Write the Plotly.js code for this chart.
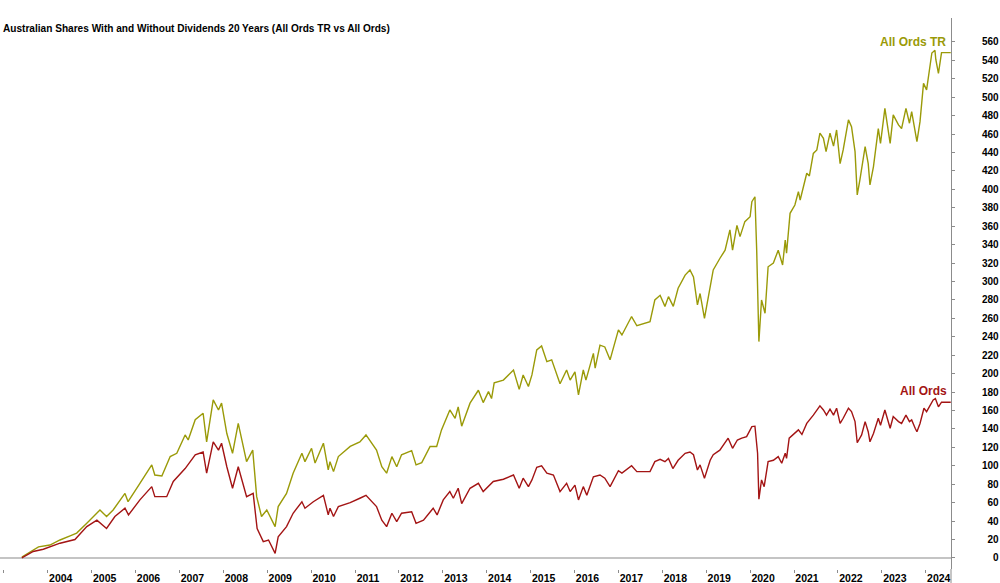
<!DOCTYPE html>
<html>
<head>
<meta charset="utf-8">
<script src="https://cdn.plot.ly/plotly-3.0.1.min.js"></script>
<style>html,body{margin:0;padding:0;background:#fff;}#chart{width:1000px;height:583px;}</style>
</head>
<body>
<div id="chart"></div>
<script>
// Decimal-year dates and cumulative % gains
const trYears = [2003.41,2003.67,2003.79,2004.05,2004.28,2004.51,2004.66,2004.89,2005.19,2005.34,2005.49,2005.76,2005.83,2006.10,2006.37,2006.44,2006.60,2006.79,2006.94,2007.13,2007.20,2007.36,2007.54,2007.62,2007.70,2007.77,2007.89,2007.96,2008.08,2008.21,2008.34,2008.53,2008.67,2008.76,2008.87,2008.99,2009.18,2009.25,2009.44,2009.59,2009.79,2009.86,2010.01,2010.09,2010.28,2010.39,2010.43,2010.51,2010.62,2010.89,2011.11,2011.25,2011.49,2011.61,2011.72,2011.84,2011.95,2012.06,2012.29,2012.39,2012.52,2012.71,2012.86,2012.97,2013.16,2013.28,2013.35,2013.43,2013.62,2013.81,2013.92,2014.04,2014.11,2014.17,2014.38,2014.61,2014.74,2014.83,2014.95,2015.03,2015.14,2015.25,2015.37,2015.48,2015.67,2015.82,2015.90,2016.01,2016.09,2016.20,2016.26,2016.43,2016.47,2016.58,2016.69,2016.81,2017.00,2017.08,2017.30,2017.42,2017.72,2017.83,2017.95,2018.06,2018.14,2018.25,2018.36,2018.52,2018.63,2018.71,2018.80,2018.86,2018.96,2019.07,2019.16,2019.31,2019.43,2019.54,2019.60,2019.70,2019.77,2019.88,2020.00,2020.04,2020.11,2020.15,2020.20,2020.26,2020.34,2020.41,2020.53,2020.64,2020.74,2020.80,2020.83,2020.91,2021.02,2021.10,2021.14,2021.29,2021.35,2021.44,2021.52,2021.59,2021.67,2021.73,2021.82,2021.90,2021.97,2022.05,2022.12,2022.24,2022.31,2022.39,2022.44,2022.50,2022.62,2022.69,2022.73,2022.81,2022.92,2022.97,2023.07,2023.19,2023.26,2023.38,2023.45,2023.55,2023.63,2023.68,2023.76,2023.80,2023.87,2023.95,2024.02,2024.08,2024.14,2024.21,2024.23,2024.29,2024.33,2024.36,2024.57];
const trValues = [1,8,12,14,19.5,24,27,37.6,52,45,52,70,61,81,101,90,89,110,113.6,133.5,128,150,157,126,150,171.5,160.6,168,135,113.6,146,104.5,117,66.5,45,52,34,55.7,70,92,113.6,104.5,119,103,124.5,95.5,104.5,93.7,110,121,126,133.5,117,99,92,110,99,112,116.5,101,103.5,121,121,139,160.6,151.6,164,143,168,182,168.6,180.5,173,190,193,204,183,198.6,186,198.6,225.7,230,213,215,189,204,193,202,177,204,193,222,206,231,229,215,247.5,242,262,252,256.5,280,285,273,283.6,273,292.7,307,312.6,305,274.6,287,260,289,312.6,325,334,356,334,361,348.7,365,370.4,386.7,392,334,234.8,280,265.6,316,320,334,318,345,330.7,374,383,397.5,388.5,417.5,414.6,439,442.8,461,455.5,441,461,447,464.5,428,442.8,475.4,468,441,394,410,446.4,428,404.8,424.7,466,450,488,450,480.8,470,466,488,471.8,484.4,462.7,451.8,473.5,515,508,526,548,551,541,526,537,548.4,548.4];

const aoYears = [2003.41,2003.67,2003.90,2004.28,2004.62,2004.89,2005.12,2005.34,2005.53,2005.76,2005.84,2006.10,2006.37,2006.44,2006.71,2006.86,2007.13,2007.36,2007.54,2007.62,2007.77,2007.89,2007.96,2008.08,2008.21,2008.34,2008.53,2008.68,2008.77,2008.91,2009.03,2009.18,2009.25,2009.44,2009.59,2009.79,2009.86,2010.05,2010.28,2010.39,2010.43,2010.51,2010.62,2010.89,2011.11,2011.25,2011.49,2011.61,2011.72,2011.84,2011.95,2012.06,2012.29,2012.39,2012.56,2012.78,2012.87,2013.01,2013.16,2013.24,2013.35,2013.43,2013.62,2013.81,2013.92,2014.15,2014.38,2014.61,2014.74,2014.83,2014.95,2015.03,2015.14,2015.25,2015.37,2015.52,2015.67,2015.82,2015.90,2016.01,2016.09,2016.20,2016.28,2016.43,2016.58,2016.69,2016.81,2017.00,2017.08,2017.30,2017.42,2017.72,2017.83,2017.95,2018.06,2018.14,2018.24,2018.36,2018.52,2018.63,2018.71,2018.80,2018.86,2018.96,2019.09,2019.16,2019.31,2019.50,2019.60,2019.71,2019.81,2019.92,2020.04,2020.11,2020.17,2020.20,2020.26,2020.32,2020.41,2020.53,2020.64,2020.72,2020.80,2020.83,2020.89,2020.98,2021.10,2021.18,2021.29,2021.44,2021.59,2021.67,2021.74,2021.82,2021.90,2021.97,2022.05,2022.12,2022.24,2022.31,2022.39,2022.44,2022.54,2022.62,2022.69,2022.73,2022.81,2022.92,2022.97,2023.07,2023.19,2023.26,2023.38,2023.45,2023.55,2023.63,2023.68,2023.76,2023.80,2023.87,2023.96,2024.02,2024.10,2024.17,2024.22,2024.29,2024.36,2024.57];
const aoValues = [0,7,9.4,16,20,34,41,32,45,54,46.7,63,77.4,66.5,66.5,83,97,112,115,92,126,117,124.5,99,75.6,99,66.5,70,32,17.7,19.5,5,23,34,48.5,61,54,61,68,46.7,54,45,55.7,60,64.8,68,55.7,41,34,48.5,39.4,48.5,50,37.6,41,54,46.7,63,72,64.8,75.6,59,75.6,81,72,83,85.4,90,75.6,86.5,77.4,84.7,98.4,100,92,90,72,81,72,79,63,77.4,68,88,90,86.5,77.4,94.7,92,100,93.7,93.7,104.5,107,104.5,108,97,106,113.6,115,112,95.5,101,86.5,106,112,117,130,119,128,130,131.7,142.5,143,113.6,63.7,84.7,77.4,104.5,106,110,102.8,113.6,108,130,133.5,139,134,146,155,165,160.6,155,161.4,155,162.5,146,151.6,162.5,158.8,148,125,133.5,148,137,126,135,151.6,144,160.6,140.8,153.4,148,146,155,148,149.8,140.8,137,146,162.5,158.8,166,171.5,173,164,169,169];

const yearTicks = [2003,2004,2005,2006,2007,2008,2009,2010,2011,2012,2013,2014,2015,2016,2017,2018,2019,2020,2021,2022,2023,2024];
const yearLabels = ['','2004','2005','2006','2007','2008','2009','2010','2011','2012','2013','2014','2015','2016','2017','2018','2019','2020','2021','2022','2023','2024'];
const valueTicks = [0,20,40,60,80,100,120,140,160,180,200,220,240,260,280,300,320,340,360,380,400,420,440,460,480,500,520,540,560];

const seriesNames = ['All Ords TR','All Ords'];
const chartTitle = 'Australian Shares With and Without Dividends 20 Years (All Ords TR vs All Ords)';

const OLIVE = '#9a9a08';
const RED = '#a31414';
const FONT = 'Liberation Sans, Arial, Helvetica, sans-serif';
const YR = [-12, 586];
// right-align the value labels by padding with figure spaces (same width as a digit)
const valueLabels = valueTicks.map(v => String(v).padStart(3, '\u2007'));

const traces = [
  {x: trYears, y: trValues, type: 'scatter', mode: 'lines', name: seriesNames[0],
   line: {color: OLIVE, width: 1.4}, hoverinfo: 'skip'},
  {x: aoYears, y: aoValues, type: 'scatter', mode: 'lines', name: seriesNames[1],
   line: {color: RED, width: 1.4}, hoverinfo: 'skip'}
];

const layout = {
  width: 1000, height: 583,
  margin: {l: 0, r: 49, t: 18, b: 14, pad: 0},
  paper_bgcolor: '#ffffff', plot_bgcolor: '#ffffff',
  showlegend: false,
  title: {text: chartTitle, x: 0.003, xanchor: 'left', xref: 'container',
          y: 1 - 28.5/583, yanchor: 'middle', yref: 'container',
          font: {family: FONT, size: 10.1, weight: 'bold', color: '#000000'}},
  xaxis: {range: [2002.913, 2024.576],
          tickmode: 'array', tickvals: yearTicks, ticktext: yearLabels,
          ticks: 'outside', ticklen: 3, tickwidth: 1, tickcolor: '#8c8c8c',
          ticklabelshift: 13, ticklabelstandoff: -4,
          showline: false, showgrid: false, zeroline: false,
          tickfont: {family: FONT, size: 10.5, weight: 'bold', color: '#000000'}},
  yaxis: {side: 'right', anchor: 'x', range: YR,
          tickmode: 'array', tickvals: valueTicks, ticktext: valueLabels,
          ticks: 'outside', ticklen: 3, tickwidth: 1, tickcolor: '#8c8c8c',
          ticklabelstandoff: 25,
          showline: true, linecolor: '#8c8c8c', linewidth: 1,
          showgrid: false, zeroline: true, zerolinecolor: '#c4c4c4', zerolinewidth: 1.5,
          tickfont: {family: FONT, size: 10, weight: 'bold', color: '#000000'}},
  shapes: [
    {type: 'line', xref: 'paper', yref: 'paper', x0: 1, x1: 1, y0: -0.03, y1: 0,
     line: {color: '#8c8c8c', width: 1}}
  ],
  annotations: [
    {text: seriesNames[0], xref: 'paper', yref: 'y', x: 0.9968, y: 559.5,
     xanchor: 'right', yanchor: 'middle', showarrow: false,
     font: {family: FONT, size: 12, weight: 'bold', color: OLIVE}},
    {text: seriesNames[1], xref: 'paper', yref: 'y', x: 0.9979, y: 181.2,
     xanchor: 'right', yanchor: 'middle', showarrow: false,
     font: {family: FONT, size: 12, weight: 'bold', color: RED}}
  ]
};

Plotly.newPlot('chart', traces, layout, {staticPlot: true, displayModeBar: false});
</script>
</body>
</html>
